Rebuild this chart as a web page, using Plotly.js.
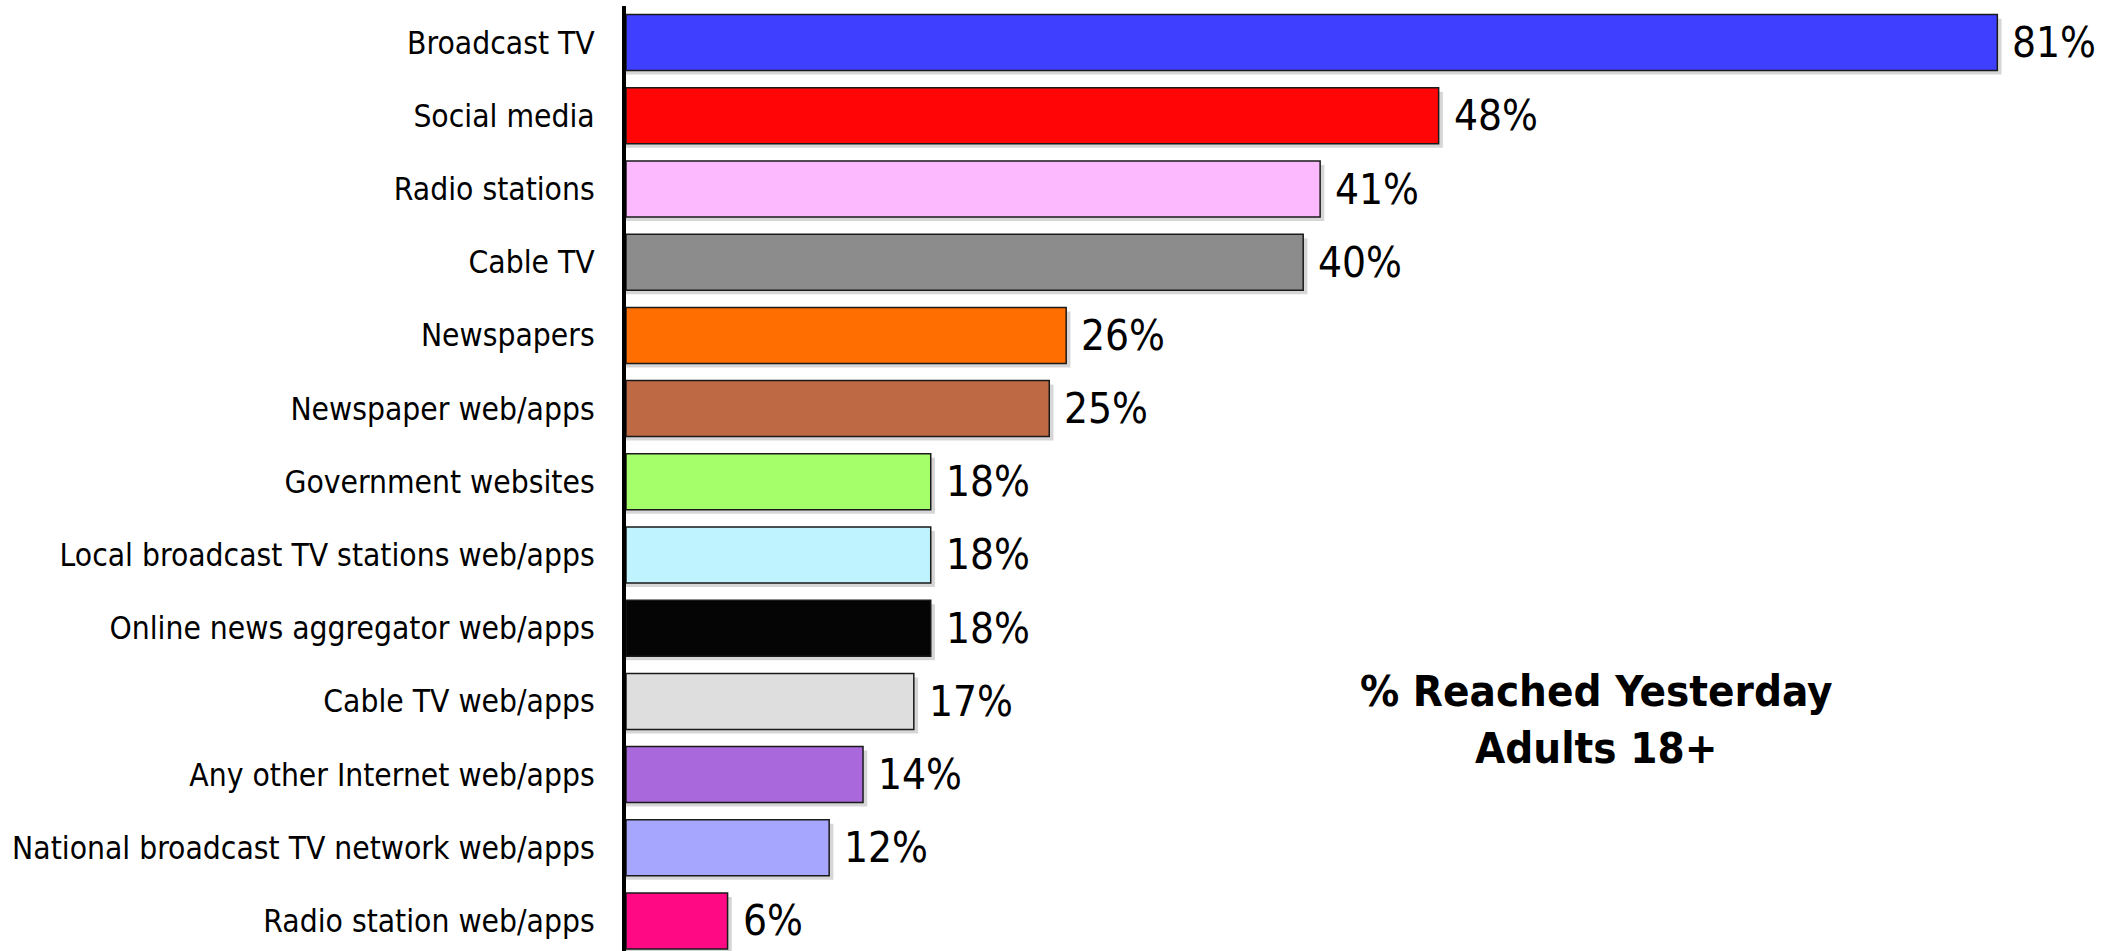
<!DOCTYPE html>
<html>
<head>
<meta charset="utf-8">
<script src="https://cdn.plot.ly/plotly-3.0.1.min.js"></script>
<style>html,body{margin:0;padding:0;background:#fff;}#chart{width:2126px;height:951px;}</style>
</head>
<body>
<div id="chart"></div>
<script>
const categories = [
  "Broadcast TV",
  "Social media",
  "Radio stations",
  "Cable TV",
  "Newspapers",
  "Newspaper web/apps",
  "Government websites",
  "Local broadcast TV stations web/apps",
  "Online news aggregator web/apps",
  "Cable TV web/apps",
  "Any other Internet web/apps",
  "National broadcast TV network web/apps",
  "Radio station web/apps"
];
const values = [81, 48, 41, 40, 26, 25, 18, 18, 18, 17, 14, 12, 6];
const valueLabels = ["81%", "48%", "41%", "40%", "26%", "25%", "18%", "18%", "18%", "17%", "14%", "12%", "6%"];
const barColors = [
  "#3F3FFF", "#FF0505", "#FDB9FD", "#8C8C8C", "#FF6E00", "#BE6844",
  "#A4FF6A", "#BEF3FF", "#050505", "#DEDEDE", "#A968DB", "#A6A6FF", "#FF0A84"
];
const chartTitle = "% Reached Yesterday<br>Adults 18+";

const FONT = "DejaVu Sans Condensed, DejaVu Sans, Liberation Sans, sans-serif";
const barWidth = 0.765;

const shadow = {
  type: "bar",
  orientation: "h",
  y: categories,
  x: values.map(v => v + 0.25),
  width: barWidth,
  offset: -barWidth / 2 + 0.055,
  marker: { color: "rgba(0,0,0,0.16)", line: { width: 0 } },
  hoverinfo: "skip",
  showlegend: false
};

const bars = {
  type: "bar",
  orientation: "h",
  y: categories,
  x: values,
  width: barWidth,
  marker: { color: barColors, line: { color: "#1a1a1a", width: 1.5 } },
  hoverinfo: "skip",
  showlegend: false
};

const annotations = values.map((v, i) => ({
  x: v, y: categories[i], xref: "x", yref: "y",
  text: valueLabels[i], showarrow: false,
  xanchor: "left", yanchor: "middle", xshift: 13,
  font: { family: FONT, size: 42, color: "#000" }
}));
annotations.push({
  x: 0.647, y: 0.245, xref: "paper", yref: "paper",
  text: "<b>" + chartTitle + "</b>", showarrow: false,
  xanchor: "center", yanchor: "middle", align: "center",
  font: { family: FONT, size: 43.5, color: "#000" }
});

const layout = {
  width: 2126, height: 951,
  margin: { l: 626, r: 0, t: 6, b: 0, pad: 0 },
  paper_bgcolor: "#fff", plot_bgcolor: "#fff",
  barmode: "overlay",
  showlegend: false,
  xaxis: { range: [0, 88.6], visible: false, fixedrange: true },
  yaxis: {
    type: "category",
    categoryorder: "array", categoryarray: categories,
    range: [12.41, -0.5],
    showline: true, linecolor: "#000", linewidth: 4,
    showgrid: false, zeroline: false, ticks: "",
    ticklabelstandoff: 21,
    tickfont: { family: FONT, size: 31.5, color: "#000" },
    fixedrange: true
  },
  annotations: annotations
};

Plotly.newPlot("chart", [shadow, bars], layout, { displayModeBar: false, staticPlot: true });
</script>
</body>
</html>
